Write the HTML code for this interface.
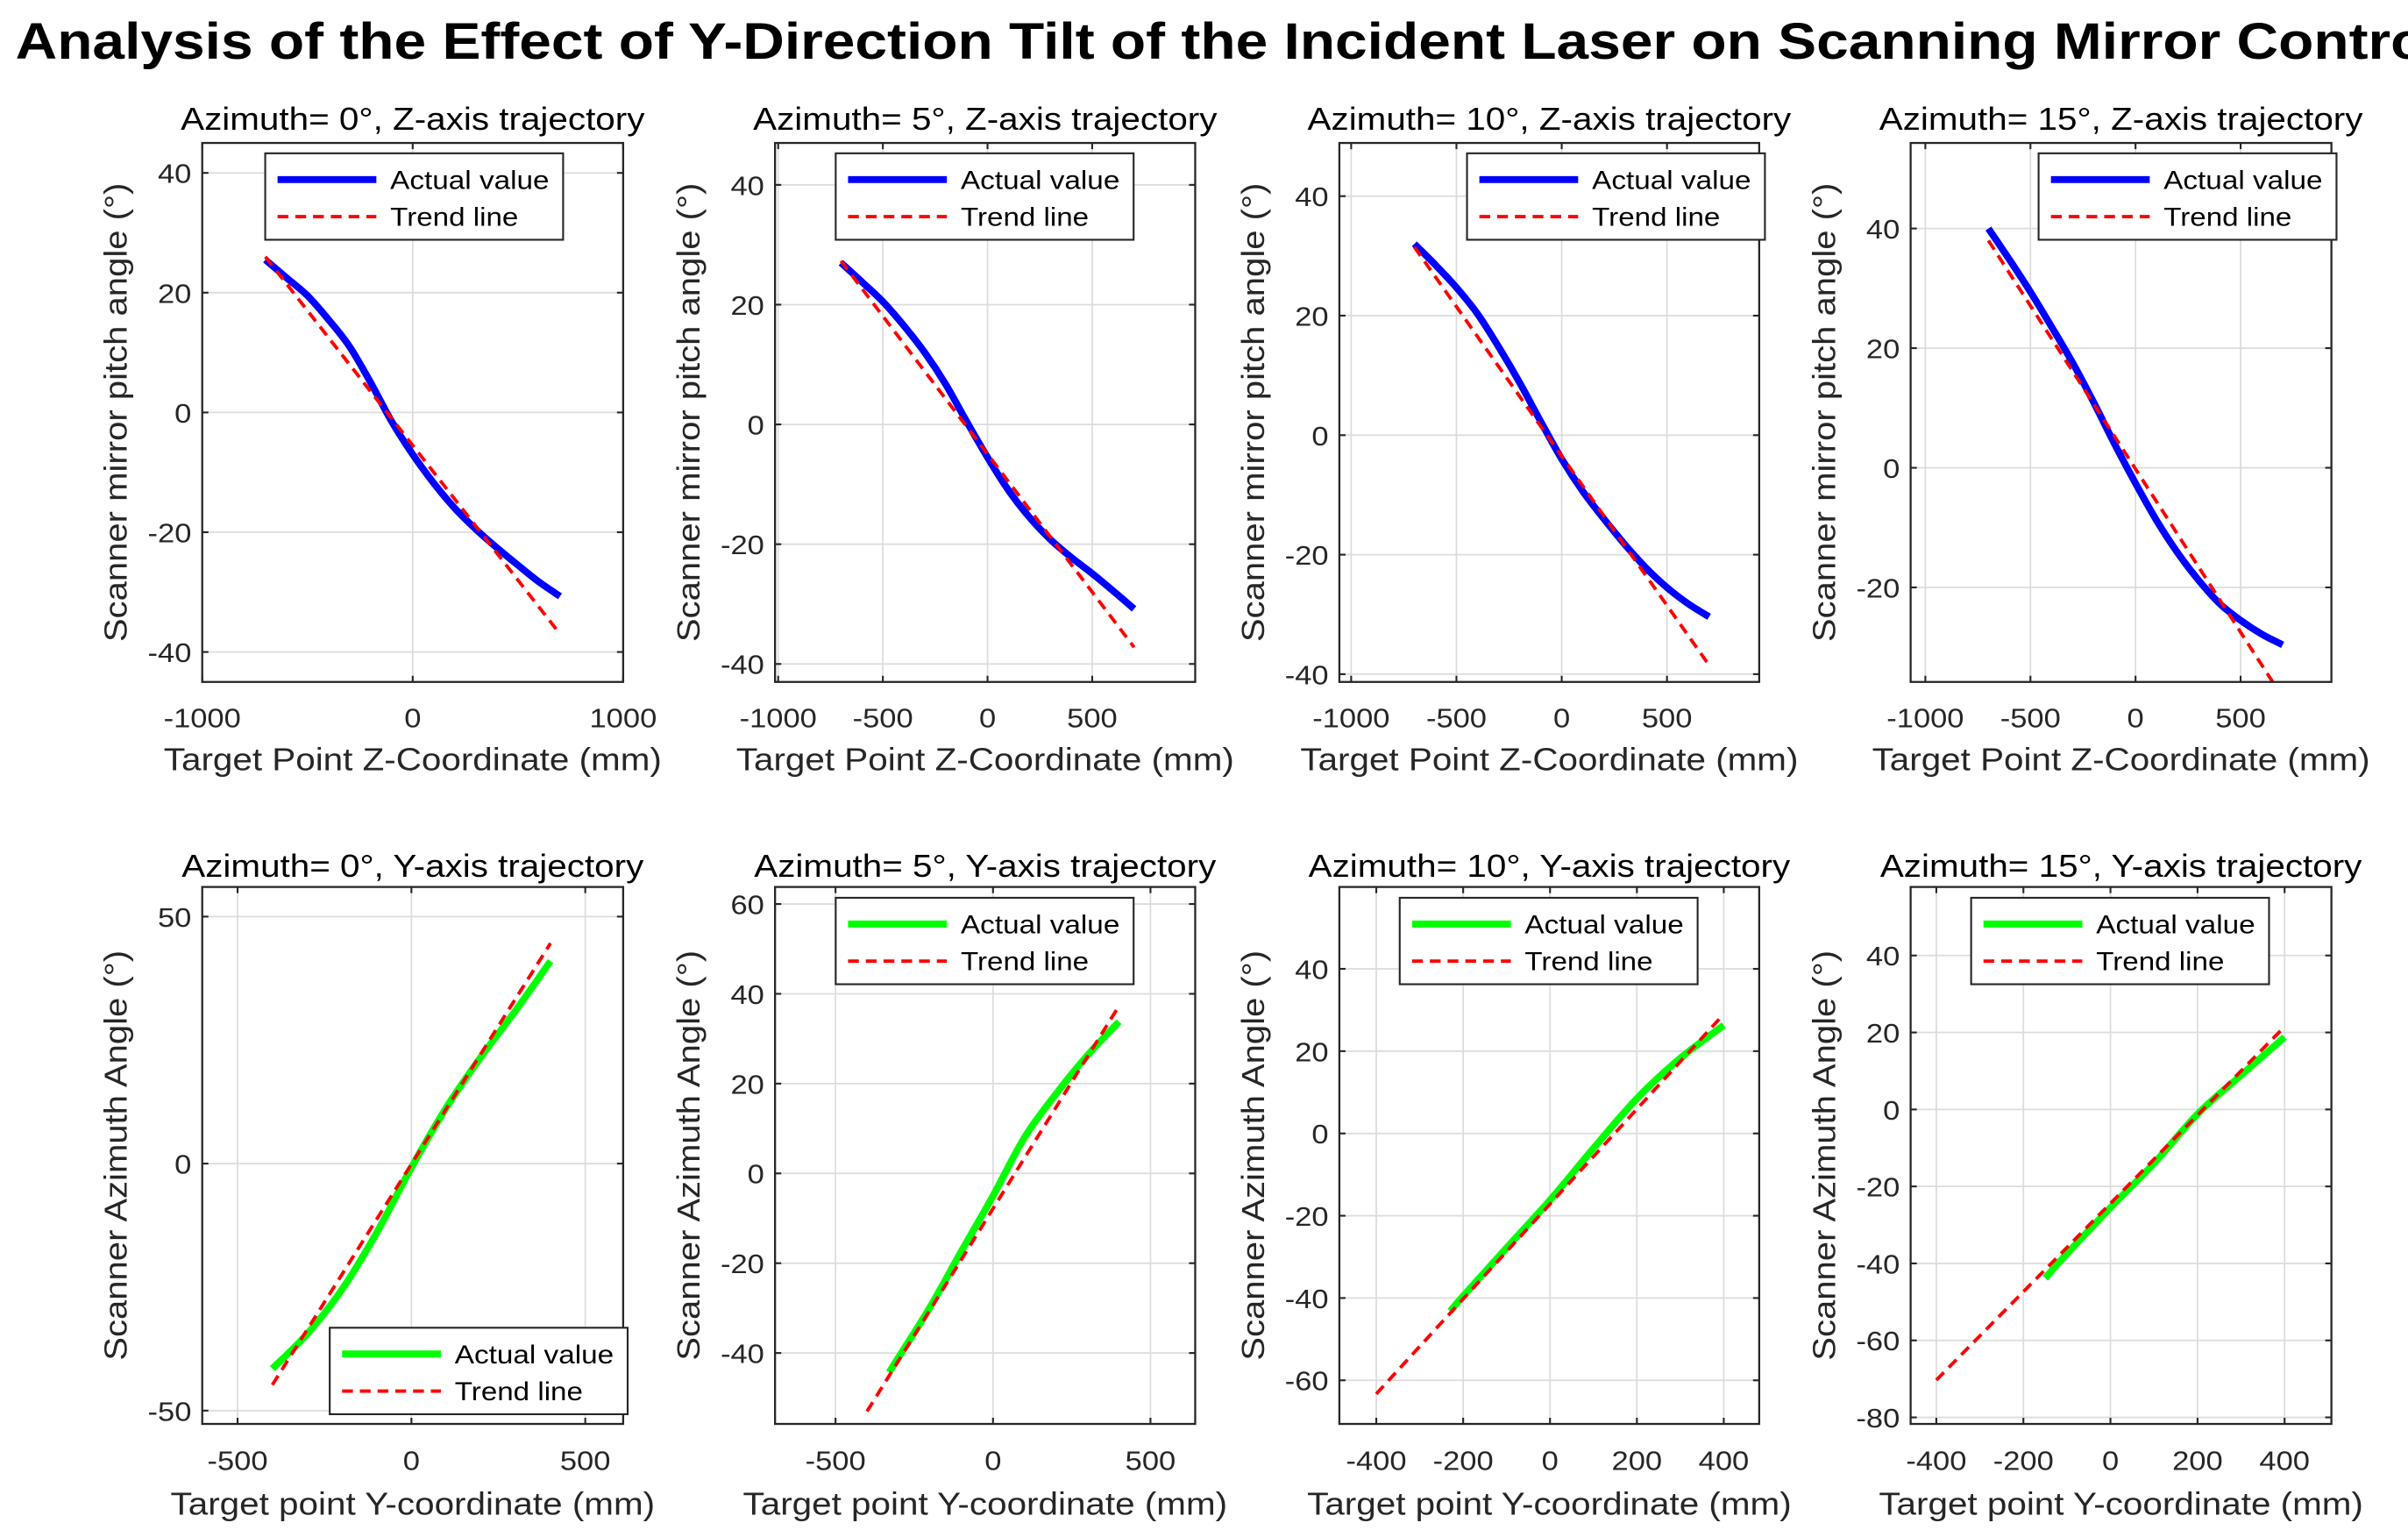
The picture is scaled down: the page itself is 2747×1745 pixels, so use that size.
<!DOCTYPE html>
<html><head><meta charset="utf-8"><style>
html,body{margin:0;padding:0;background:#fff;}
svg{display:block;}
text{font-family:"Liberation Sans",Arial,sans-serif;}
</style></head><body>
<svg id="fig" width="2747" height="1745" viewBox="0 0 1560 991" xmlns="http://www.w3.org/2000/svg">
<rect x="0" y="0" width="1560" height="991" fill="#fff"/>
<text id="ttl" x="10" y="38" font-size="33" font-weight="bold" fill="#000" textLength="1572" lengthAdjust="spacingAndGlyphs">Analysis of the Effect of Y-Direction Tilt of the Incident Laser on Scanning Mirror Control</text>
</svg>
<script>
// ---- data (top row: Z-axis trajectory, pitch angle) ----
const zGrid = [-700,-600,-500,-400,-300,-200,-100,0,100,200,300,400,500,600,700];
const pitch0 = [25.5,22.5,19.5,15.5,11,5,-1.5,-7,-11.8,-16,-19.5,-22.6,-25.5,-28.3,-30.7];
const pitch5 = [27,23.8,20.5,16.5,12,6.7,0.5,-5.5,-11,-15.5,-19.2,-22.2,-24.9,-27.8,-30.8];
const pitch10 = [32,28.5,24.7,20.3,14.8,8.8,2.3,-4,-9.4,-14,-18.3,-22.2,-25.5,-28.2,-30.4];
const pitch15 = [40,34.8,29.4,23.6,17.6,11,4,-2.6,-8.8,-14.2,-18.8,-22.7,-25.5,-27.8,-29.6];
const trendZ = [-700,700];
const trendPitch0 = [26,-37];
const trendPitch5 = [27.3,-37.2];
const trendPitch10 = [31.5,-38.5];
const trendPitch15 = [38,-38.4];
// ---- data (bottom row: Y-axis trajectory, azimuth angle) ----
const yGrid0 = [-400,-300,-200,-100,0,100,200,300,400];
const az0 = [-41.5,-34.5,-25.5,-14,-0.8,11.3,21.6,31,41];
const yGrid5 = [-330,-300,-200,-100,0,100,200,300,400];
const az5 = [-44.3,-41,-29.8,-17.3,-5,8,17.7,26.3,33.8];
const yGrid10 = [-230,-200,-100,0,100,200,300,400];
const az10 = [-43.2,-39.5,-27.8,-16.2,-3.6,8.5,18.3,26.3];
const yGrid15 = [-150,-100,0,100,200,300,400];
const az15 = [-43.8,-37.5,-25.5,-14,-1.2,8.9,18.8];
const trendY = [-400,400];
const trendAz0 = [-44.8,44.6];
const trendAz5 = [-53,37.3];
const trendAz10 = [-63.3,29];
const trendAz15 = [-70.3,21.5];
// ---- tick labels ----
const xTicksTop1 = [-1000,0,1000];
const xTicksTop = [-1000,-500,0,500];
const yTicks40 = [-40,-20,0,20,40];
const yTicks15 = [-20,0,20,40];
const xTicksB500 = [-500,0,500];
const xTicksB400 = [-400,-200,0,200,400];
const yTicksB1 = [-50,0,50];
const yTicksB2 = [-40,-20,0,20,40,60];
const yTicksB3 = [-60,-40,-20,0,20,40];
const yTicksB4 = [-80,-60,-40,-20,0,20,40];
const subtitles = ["Azimuth= 0°, Z-axis trajectory","Azimuth= 5°, Z-axis trajectory","Azimuth= 10°, Z-axis trajectory","Azimuth= 15°, Z-axis trajectory","Azimuth= 0°, Y-axis trajectory","Azimuth= 5°, Y-axis trajectory","Azimuth= 10°, Y-axis trajectory","Azimuth= 15°, Y-axis trajectory"];

const NS="http://www.w3.org/2000/svg";
const svg=document.getElementById('fig');
function mk(tag,attrs,parent){const e=document.createElementNS(NS,tag);for(const k in attrs)e.setAttribute(k,attrs[k]);(parent||svg).appendChild(e);return e;}
function stretch(t,k){try{const w=t.getComputedTextLength();if(w>0){t.setAttribute('textLength',(w*k).toFixed(1));t.setAttribute('lengthAdjust','spacingAndGlyphs');}}catch(e){}}
function smooth(pts){
  if(pts.length<3)return 'M'+pts.map(p=>p.join(',')).join(' L');
  let d='M'+pts[0][0]+','+pts[0][1];
  for(let i=0;i<pts.length-1;i++){
    const p0=pts[i-1]||pts[i],p1=pts[i],p2=pts[i+1],p3=pts[i+2]||p2;
    const c1=[p1[0]+(p2[0]-p0[0])/6,p1[1]+(p2[1]-p0[1])/6];
    const c2=[p2[0]-(p3[0]-p1[0])/6,p2[1]-(p3[1]-p1[1])/6];
    d+=' C'+c1[0]+','+c1[1]+' '+c2[0]+','+c2[1]+' '+p2[0]+','+p2[1];
  }
  return d;
}

const panels=[
 {l:131,r:403.7,t:92.6,b:441.7,xd:[-1000,1000],yd:[-45,45],xt:xTicksTop1,yt:yTicks40,xs:zGrid,ys:pitch0,tx:trendZ,ty:trendPitch0,col:'#0000ff',leg:[171.8,99.3],xl:'Target Point Z-Coordinate (mm)',yl:'Scanner mirror pitch angle (°)',row:0},
 {l:502.1,r:774.3,t:92.6,b:441.7,xd:[-1015,992],yd:[-43,47],xt:xTicksTop,yt:yTicks40,xs:zGrid,ys:pitch5,tx:trendZ,ty:trendPitch5,col:'#0000ff',leg:[541.4,99.3],xl:'Target Point Z-Coordinate (mm)',yl:'Scanner mirror pitch angle (°)',row:0},
 {l:867.7,r:1139.7,t:92.6,b:441.7,xd:[-1056,938],yd:[-41.3,48.9],xt:xTicksTop,yt:yTicks40,xs:zGrid,ys:pitch10,tx:trendZ,ty:trendPitch10,col:'#0000ff',leg:[950.4,99.3],xl:'Target Point Z-Coordinate (mm)',yl:'Scanner mirror pitch angle (°)',row:0},
 {l:1237.8,r:1510.4,t:92.6,b:441.7,xd:[-1070,932],yd:[-35.8,54.3],xt:xTicksTop,yt:yTicks15,xs:zGrid,ys:pitch15,tx:trendZ,ty:trendPitch15,col:'#0000ff',leg:[1320.7,99.3],xl:'Target Point Z-Coordinate (mm)',yl:'Scanner mirror pitch angle (°)',row:0},
 {l:131,r:403.7,t:574.5,b:922.3,xd:[-601.6,609],yd:[-52.7,56],xt:xTicksB500,yt:yTicksB1,xs:yGrid0,ys:az0,tx:trendY,ty:trendAz0,col:'#00ff00',leg:[213.6,860],xl:'Target point Y-coordinate (mm)',yl:'Scanner Azimuth Angle (°)',row:1},
 {l:502.1,r:774.3,t:574.5,b:922.3,xd:[-692,642],yd:[-55.8,63.8],xt:xTicksB500,yt:yTicksB2,xs:yGrid5,ys:az5,tx:trendY,ty:trendAz5,col:'#00ff00',leg:[541.4,581.5],xl:'Target point Y-coordinate (mm)',yl:'Scanner Azimuth Angle (°)',row:1},
 {l:867.7,r:1139.7,t:574.5,b:922.3,xd:[-485,481.6],yd:[-70.6,59.9],xt:xTicksB400,yt:yTicksB3,xs:yGrid10,ys:az10,tx:trendY,ty:trendAz10,col:'#00ff00',leg:[906.8,581.5],xl:'Target point Y-coordinate (mm)',yl:'Scanner Azimuth Angle (°)',row:1},
 {l:1237.8,r:1510.4,t:574.5,b:922.3,xd:[-459,507.5],yd:[-81.7,57.8],xt:xTicksB400,yt:yTicksB4,xs:yGrid15,ys:az15,tx:trendY,ty:trendAz15,col:'#00ff00',leg:[1277,581.5],xl:'Target point Y-coordinate (mm)',yl:'Scanner Azimuth Angle (°)',row:1}
];

panels.forEach((p,i)=>{
  const g=mk('g',{});
  
  
  const X=v=>p.l+(v-p.xd[0])/(p.xd[1]-p.xd[0])*(p.r-p.l);
  const Y=v=>p.b-(v-p.yd[0])/(p.yd[1]-p.yd[0])*(p.b-p.t);
  const cid='clip'+i;
  const cp=mk('clipPath',{id:cid},g);
  mk('rect',{x:p.l,y:p.t,width:p.r-p.l,height:p.b-p.t},cp);
  p.xt.forEach(v=>{const x=X(v);
    const gl=mk('line',{x1:x,x2:x,y1:p.t,y2:p.b,stroke:'#dcdcdc','stroke-width':1},g);
    
    });
  p.yt.forEach(v=>{const y=Y(v);
    const gl=mk('line',{x1:p.l,x2:p.r,y1:y,y2:y,stroke:'#dcdcdc','stroke-width':1},g);
    
    });
  const ac=mk('path',{d:smooth(p.xs.map((v,k)=>[X(v),Y(p.ys[k])])),fill:'none',stroke:p.col,'stroke-width':4.5,'stroke-linejoin':'round','clip-path':'url(#'+cid+')'},g);
  
  
  const tr=mk('polyline',{points:p.tx.map((v,k)=>X(v)+','+Y(p.ty[k])).join(' '),fill:'none',stroke:'#ff0000','stroke-width':2.2,'stroke-dasharray':'7,4.5','clip-path':'url(#'+cid+')'},g);
  
  
  const bx=mk('rect',{x:p.l,y:p.t,width:p.r-p.l,height:p.b-p.t,fill:'none',stroke:'#262626','stroke-width':1.3},g);
  
  
  p.xt.forEach(v=>{const x=X(v);
    mk('line',{x1:x,x2:x,y1:p.b,y2:p.b-4,stroke:'#262626','stroke-width':1.2},g);
    mk('line',{x1:x,x2:x,y1:p.t,y2:p.t+4,stroke:'#262626','stroke-width':1.2},g);
    const t=mk('text',{x:x,y:p.row?952:471,'font-size':17.5,'text-anchor':'middle',fill:'#262626'},g);
    t.textContent=v;
    
    
    stretch(t,1.12);});
  p.yt.forEach(v=>{const y=Y(v);
    mk('line',{x1:p.l,x2:p.l+4,y1:y,y2:y,stroke:'#262626','stroke-width':1.2},g);
    mk('line',{x1:p.r,x2:p.r-4,y1:y,y2:y,stroke:'#262626','stroke-width':1.2},g);
    const t=mk('text',{x:p.l-7,y:y+6.5,'font-size':17.5,'text-anchor':'end',fill:'#262626'},g);
    t.textContent=v;
    
    
    stretch(t,1.12);});
  const cx=(p.l+p.r)/2;
  const st=mk('text',{x:cx,y:p.row?568:84,'font-size':20.5,'text-anchor':'middle',fill:'#000'},g);
  st.textContent=subtitles[i];
  
  
  stretch(st,1.12);
  const xl=mk('text',{x:cx,y:p.row?981:499,'font-size':20.5,'text-anchor':'middle',fill:'#262626'},g);
  xl.textContent=p.xl;
  
  
  stretch(xl,1.12);
  const ym=(p.t+p.b)/2, yx=p.l-56;
  const yl=mk('text',{x:0,y:0,'font-size':20.5,'text-anchor':'middle','dominant-baseline':'central',fill:'#262626',transform:'translate('+yx+','+ym+') rotate(-90)'},g);
  yl.textContent=p.yl;
  
  
  stretch(yl,1.11);
  const lx=p.leg[0], ly=p.leg[1];
  const lg=mk('g',{},g);
  
  
  mk('rect',{x:lx,y:ly,width:193,height:56,fill:'#fff',stroke:'#262626','stroke-width':1.2},lg);
  mk('line',{x1:lx+8,x2:lx+72,y1:ly+17,y2:ly+17,stroke:p.col,'stroke-width':4.5},lg);
  mk('line',{x1:lx+8,x2:lx+72,y1:ly+41,y2:ly+41,stroke:'#ff0000','stroke-width':2.2,'stroke-dasharray':'7,4.5'},lg);
  const t1=mk('text',{x:lx+81,y:ly+23,'font-size':17,fill:'#000'},lg);
  t1.textContent='Actual value';
  
  
  t1.setAttribute('textLength','103');
  t1.setAttribute('lengthAdjust','spacingAndGlyphs');
  const t2=mk('text',{x:lx+81,y:ly+47,'font-size':17,fill:'#000'},lg);
  t2.textContent='Trend line';
  
  
  t2.setAttribute('textLength','83');
  t2.setAttribute('lengthAdjust','spacingAndGlyphs');
});
</script>
</body></html>
